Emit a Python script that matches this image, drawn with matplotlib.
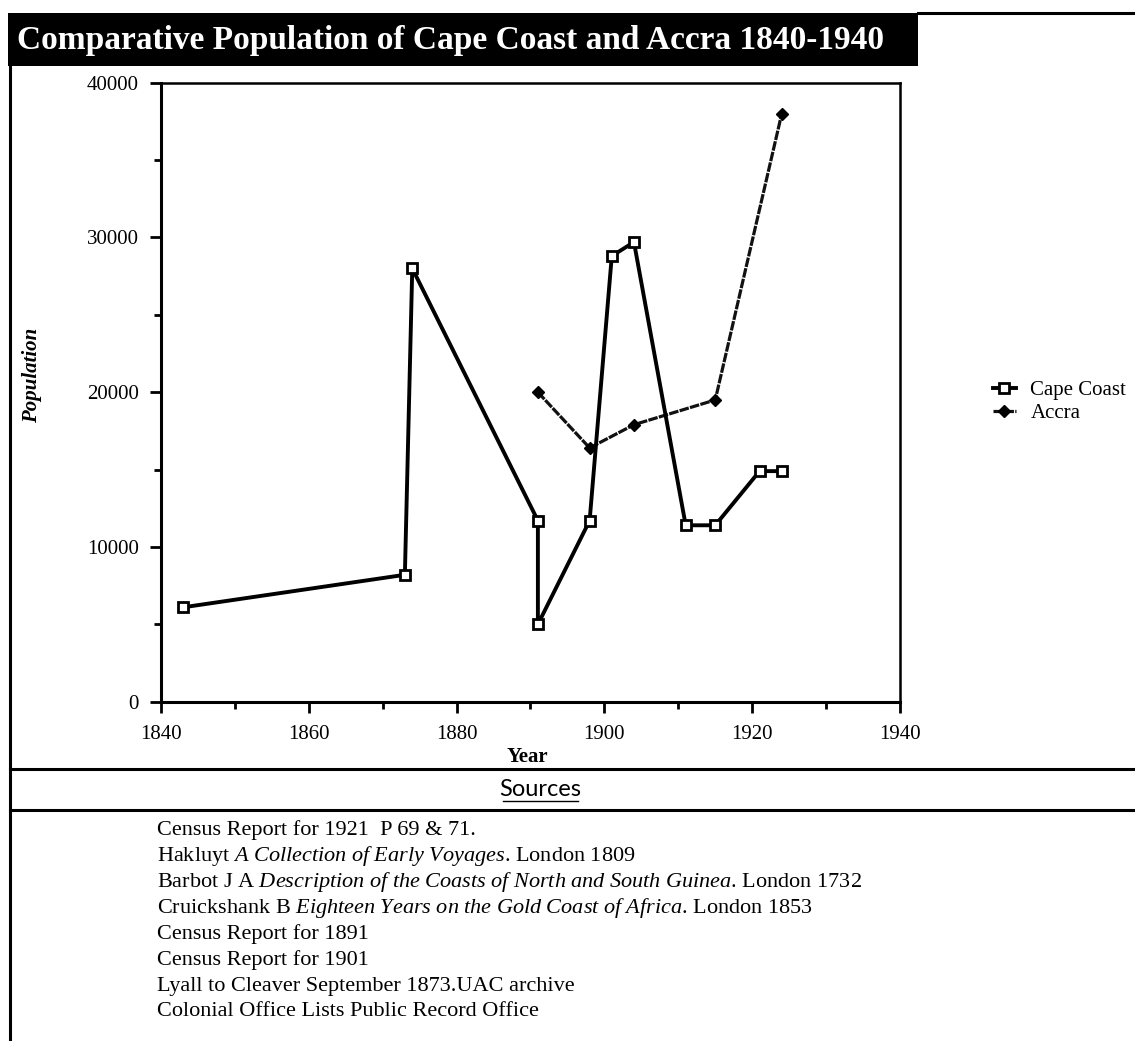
import matplotlib
matplotlib.use("Agg")
import matplotlib.pyplot as plt
from matplotlib.lines import Line2D
from matplotlib.patches import Rectangle

# Data
cape_years = [1843, 1873, 1874, 1891, 1891, 1898, 1901, 1904, 1911, 1915, 1921, 1924]
cape_pop = [6100, 8200, 28000, 11700, 5000, 11700, 28800, 29700, 11400, 11400, 14900, 14900]
accra_years = [1891, 1898, 1904, 1915, 1924]
accra_pop = [20000, 16400, 17900, 19500, 38000]

title = "Comparative Population of Cape Coast and Accra 1840-1940"
sources = [
    "Census Report for 1921  P 69 & 71.",
    "Hakluyt $\\it{A\\ Collection\\ of\\ Early\\ Voyages}$. London 1809",
    "Barbot J A $\\it{Description\\ of\\ the\\ Coasts\\ of\\ North\\ and\\ South\\ Guinea}$. London 1732",
    "Cruickshank B $\\it{Eighteen\\ Years\\ on\\ the\\ Gold\\ Coast\\ of\\ Africa}$. London 1853",
    "Census Report for 1891",
    "Census Report for 1901",
    "Lyall to Cleaver September 1873.UAC archive",
    "Colonial Office Lists Public Record Office",
]

W, H = 1135, 1041
plt.rcParams["font.family"] = "Liberation Serif"
plt.rcParams["mathtext.fontset"] = "custom"
plt.rcParams["mathtext.rm"] = "Liberation Serif"
plt.rcParams["mathtext.it"] = "Liberation Serif:italic"

fig = plt.figure(figsize=(W / 100, H / 100), dpi=100)


def fx(x):
    return x / W


def fy(y):
    return 1 - y / H


# page frame lines
for (x0, y0, x1, y1) in [(10, 66, 10, 1041), (918, 13, 1135, 13),
                         (10, 769, 1135, 769), (10, 810, 1135, 810)]:
    fig.add_artist(Line2D([fx(x0), fx(x1)], [fy(y0), fy(y1)], color="black", lw=2.2))

# title bar
fig.add_artist(Rectangle((fx(8), fy(66)), fx(918) - fx(8), fy(13) - fy(66),
                         facecolor="black", edgecolor="none", transform=fig.transFigure))
fig.text(fx(17), fy(41), title, color="white", fontsize=24, fontweight="bold",
         va="center", ha="left")

ax = fig.add_axes([fx(161), fy(701.7), fx(900) - fx(161), fy(82.7) - fy(701.7)])
ax.plot(cape_years, cape_pop, color="black", lw=2.8, marker="s", ms=7.5,
        mfc="white", mec="black", mew=2, label="Cape Coast", zorder=3)
ax.plot(accra_years, accra_pop, color="#111111", lw=2.3, linestyle=(0, (3, 0.4)),
        marker="D", ms=6.5, mfc="black", mec="black", label="Accra", zorder=2)

ax.set_xlim(1840, 1940)
ax.set_ylim(0, 40000)
ax.set_xticks(range(1840, 1941, 20))
ax.set_xticks(range(1850, 1941, 20), minor=True)
ax.set_yticks(range(0, 40001, 10000))
ax.set_yticks(range(5000, 40000, 10000), minor=True)
ax.tick_params(which="both", direction="out", width=2, labelsize=15, color="black")
ax.tick_params(which="major", length=8)
ax.tick_params(which="minor", length=5)
ax.tick_params(axis="x", which="major", pad=9)
ax.tick_params(axis="y", which="major", pad=8)
for side in ["left", "bottom"]:
    ax.spines[side].set_linewidth(2.2)
for side in ["top", "right"]:
    ax.spines[side].set_linewidth(1.8)

fig.text(fx(527), fy(757), "Year", fontsize=15, fontweight="bold", ha="center", va="center")
fig.text(fx(32), fy(375), "Population", fontsize=15, fontweight="bold", style="italic",
         rotation=90, ha="center", va="center")

ax.legend(loc="center left", bbox_to_anchor=(fx(993), fy(402)), bbox_transform=fig.transFigure,
          frameon=False, fontsize=15, handlelength=1.1, handletextpad=0.7, labelspacing=0.15,
          borderpad=0, borderaxespad=0)

fig.text(fx(540), fy(789), "Sources", fontsize=17, ha="center", va="center",
         family="Lato")
fig.add_artist(Line2D([fx(503), fx(578)], [fy(801), fy(801)], color="black", lw=1))

for i, line in enumerate(sources):
    fig.text(fx(157), fy(830 + 26 * i), line, fontsize=16, ha="left", va="center")

fig.savefig("out.png", dpi=100)
